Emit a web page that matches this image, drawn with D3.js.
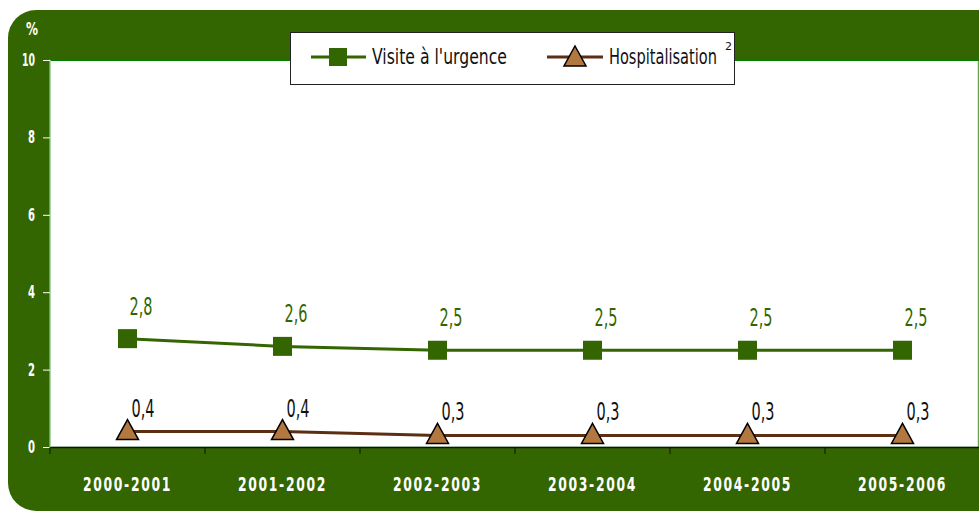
<!DOCTYPE html>
<html><head><meta charset="utf-8">
<script src="https://cdn.jsdelivr.net/npm/d3@7"></script>
<style>
html,body{margin:0;padding:0;background:#fff;}
svg{display:block;}
svg text{font-family:"DejaVu Sans",sans-serif;}
</style></head>
<body>
<script>
const categories = ["2000-2001","2001-2002","2002-2003","2003-2004","2004-2005","2005-2006"];
const urgence = [2.8, 2.6, 2.5, 2.5, 2.5, 2.5];
const hospitalisation = [0.4, 0.4, 0.3, 0.3, 0.3, 0.3];
const yTicks = [0, 2, 4, 6, 8, 10];
const seriesNames = ["Visite à l'urgence", "Hospitalisation"];

const W = 979, H = 512;
const svg = d3.select("body").append("svg").attr("width", W).attr("height", H);

// frame
svg.append("rect").attr("x", 8).attr("y", 10).attr("width", 1010).attr("height", 501)
  .attr("rx", 28).attr("ry", 28).attr("fill", "#336600");

const plot = {left: 50, right: 980, top: 60, bottom: 447};
svg.append("rect").attr("x", plot.left).attr("y", plot.top)
  .attr("width", plot.right - plot.left - 2).attr("height", plot.bottom - plot.top)
  .attr("fill", "#fff").attr("stroke", "#a8d8a8").attr("stroke-width", 1);
svg.append("line").attr("x1", plot.left).attr("x2", W).attr("y1", plot.top).attr("y2", plot.top)
  .attr("stroke", "#008000").attr("stroke-width", 2);

const x = d3.scaleBand().domain(categories).range([plot.left, plot.right]);
const y = d3.scaleLinear().domain([0, 10]).range([plot.bottom, plot.top]);

// y axis
const yAxis = svg.append("g").attr("transform", `translate(${plot.left},0)`)
  .call(d3.axisLeft(y).tickValues(yTicks).tickSize(7).tickPadding(8).tickFormat(d3.format("d")));
yAxis.select(".domain").attr("stroke", "#a8d8a8");
yAxis.selectAll(".tick line").attr("stroke", "#fff");
yAxis.selectAll(".tick text").attr("fill", "#fff").attr("font-size", 17).attr("font-weight", "bold")
  .style("font-family", '"DejaVu Sans",sans-serif')
  .attr("textLength", d => d >= 10 ? 13 : 7).attr("lengthAdjust", "spacingAndGlyphs");
svg.append("text").attr("x", 32).attr("y", 35).attr("text-anchor", "middle").attr("fill", "#fff")
  .attr("font-size", 17).attr("font-weight", "bold")
  .attr("textLength", 12).attr("lengthAdjust", "spacingAndGlyphs").text("%");

// x axis
const xAxis = svg.append("g").attr("transform", `translate(0,${plot.bottom})`)
  .call(d3.axisBottom(x).tickSize(0).tickPadding(31));
xAxis.select(".domain").attr("stroke", "#111").attr("stroke-width", 1.5);
xAxis.selectAll(".tick text").attr("fill", "#fff").attr("font-size", 19).attr("font-weight", "bold")
  .attr("letter-spacing", "2.5px")
  .style("font-family", '"DejaVu Sans",sans-serif')
  .each(function () {
    const nat = this.getComputedTextLength();
    d3.select(this).attr("transform", `scale(${89 / nat},1)`);
  });
// boundary ticks
svg.append("g").selectAll("line").data(categories).join("line")
  .attr("x1", d => x(d) + x.bandwidth())
  .attr("x2", d => x(d) + x.bandwidth())
  .attr("y1", plot.bottom).attr("y2", plot.bottom + 7).attr("stroke", "#111");
svg.append("line").attr("x1", plot.left).attr("x2", plot.left).attr("y1", plot.bottom).attr("y2", plot.bottom + 7).attr("stroke", "#111");

const cx = c => x(c) + x.bandwidth() / 2;
const line = d3.line().x((d, i) => cx(categories[i])).y(d => y(d));
const fmt = d => d3.format(".1f")(d).replace(".", ",");

const green = "#336600", brown = "#5c2e14", tri = "#b3783f";

// urgence
svg.append("path").datum(urgence).attr("d", line).attr("fill", "none").attr("stroke", green).attr("stroke-width", 3);
svg.append("g").selectAll("rect").data(urgence).join("rect")
  .attr("x", (d, i) => cx(categories[i]) - 9.5).attr("y", d => y(d) - 9.5)
  .attr("width", 19).attr("height", 19).attr("fill", green);
svg.append("g").selectAll("text").data(urgence).join("text")
  .attr("x", (d, i) => cx(categories[i]) + 2).attr("y", d => y(d) - 24)
  .attr("fill", green).attr("font-size", 24)
  .attr("textLength", 23).attr("lengthAdjust", "spacingAndGlyphs")
  .text(fmt);

// hospitalisation
svg.append("path").datum(hospitalisation).attr("d", line).attr("fill", "none").attr("stroke", brown).attr("stroke-width", 3);
const triPath = "M0,-11 L11,9 L-11,9 Z";
svg.append("g").selectAll("path").data(hospitalisation).join("path")
  .attr("transform", (d, i) => `translate(${cx(categories[i])},${y(d) - 1})`)
  .attr("d", triPath).attr("fill", tri).attr("stroke", "#000").attr("stroke-width", 1.5);
svg.append("g").selectAll("text").data(hospitalisation).join("text")
  .attr("x", (d, i) => cx(categories[i]) + 4).attr("y", d => y(d) - 15)
  .attr("fill", "#111").attr("font-size", 24)
  .attr("textLength", 23).attr("lengthAdjust", "spacingAndGlyphs")
  .text(fmt);

// legend
const lg = svg.append("g");
lg.append("rect").attr("x", 290.5).attr("y", 32.5).attr("width", 444).attr("height", 52)
  .attr("fill", "#fff").attr("stroke", "#222").attr("stroke-width", 1);
lg.append("line").attr("x1", 311).attr("x2", 366).attr("y1", 57).attr("y2", 57).attr("stroke", green).attr("stroke-width", 3);
lg.append("rect").attr("x", 329).attr("y", 48).attr("width", 18).attr("height", 18).attr("fill", green);
const t1 = lg.append("text").attr("font-size", 21).attr("fill", "#111").text(seriesNames[0]);
lg.append("line").attr("x1", 547).attr("x2", 603).attr("y1", 57).attr("y2", 57).attr("stroke", brown).attr("stroke-width", 3);
lg.append("path").attr("transform", "translate(575,57)").attr("d", triPath).attr("fill", tri).attr("stroke", "#000").attr("stroke-width", 1.5);
const t2 = lg.append("text").attr("font-size", 21).attr("fill", "#111").text(seriesNames[1]);
[[t1, 135, 372], [t2, 108, 609]].forEach(([t, w, x0]) => {
  const nat = t.node().getComputedTextLength();
  t.attr("transform", `translate(${x0},64) scale(${w / nat},1)`);
});
lg.append("text").attr("x", 725).attr("y", 50).attr("font-size", 11).attr("fill", "#111").text("2");
</script>
</body></html>
